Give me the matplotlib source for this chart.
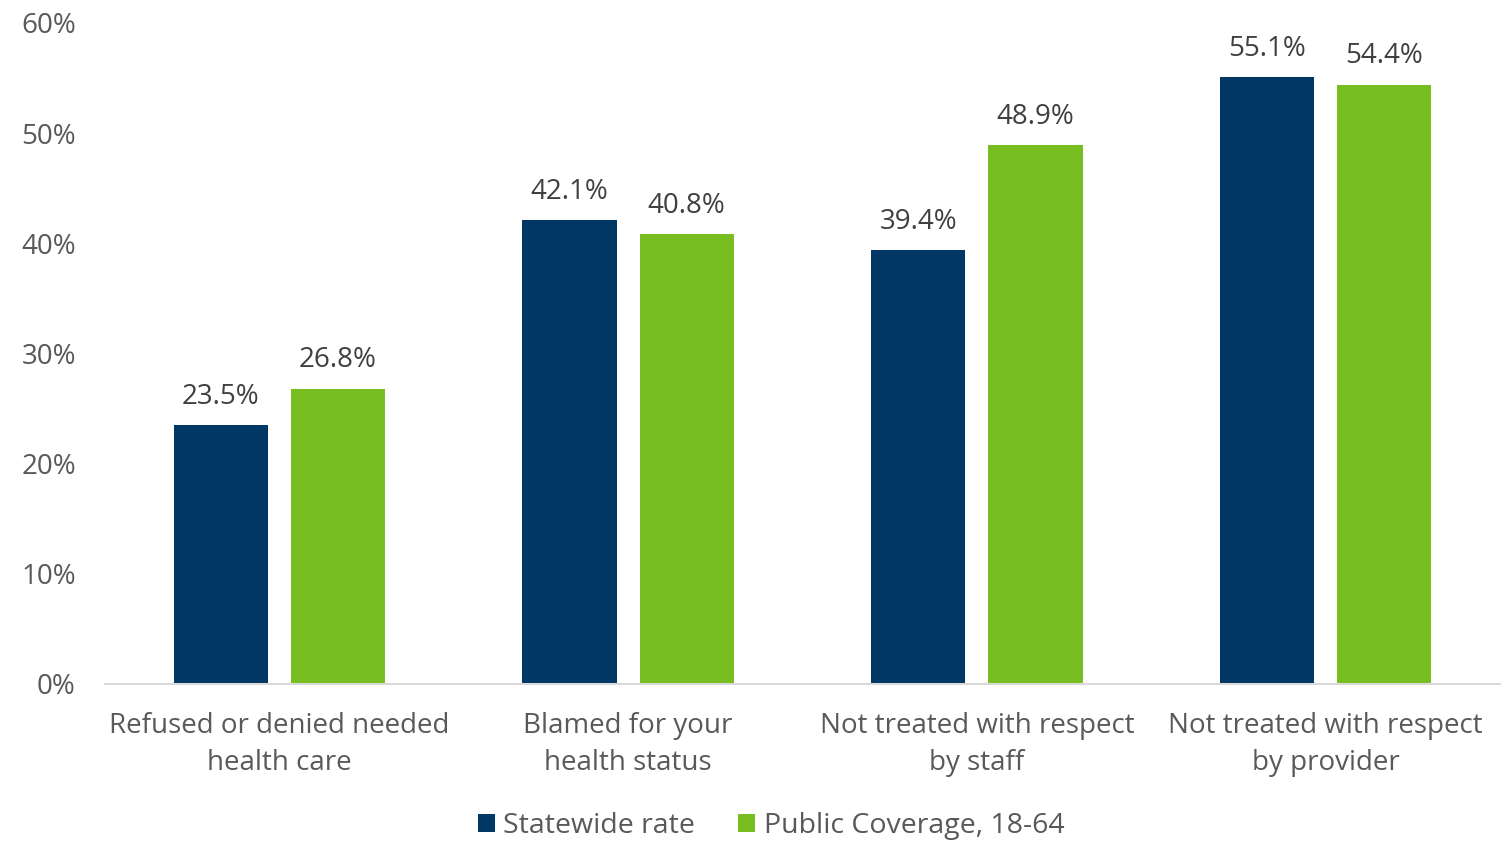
import matplotlib
matplotlib.use("Agg")
import matplotlib.pyplot as plt
import numpy as np
from matplotlib.ticker import FuncFormatter

categories = ["Refused or denied needed\nhealth care", "Blamed for your\nhealth status",
              "Not treated with respect\nby staff", "Not treated with respect\nby provider"]
statewide = [23.5, 42.1, 39.4, 55.1]
public = [26.8, 40.8, 48.9, 54.4]
series_names = ["Statewide rate", "Public Coverage, 18-64"]

plt.rcParams['font.family'] = ['Open Sans', 'DejaVu Sans']
gray = "#595959"
navy = "#003764"
green = "#78BE20"

fig = plt.figure(figsize=(15.09, 8.41), dpi=100)
ax = fig.add_axes([0.0696, 0.1867, 0.9244, 0.786])
x = np.arange(len(categories))
w = 0.27
off = 0.168
b1 = ax.bar(x - off, statewide, w, color=navy, label=series_names[0])
b2 = ax.bar(x + off, public, w, color=green, label=series_names[1])
for bars, vals in ((b1, statewide), (b2, public)):
    for r, v in zip(bars, vals):
        ax.text(r.get_x() + r.get_width() / 2, v + 1.3, f"{v:.1f}%", ha="center", va="bottom",
                fontsize=20, color="#404040")
ax.set_xlim(-0.5, 3.5)
ax.set_ylim(0, 60)
ax.set_yticks(range(0, 61, 10))
ax.yaxis.set_major_formatter(FuncFormatter(lambda v, p: f"{v:.0f}%"))
ax.set_xticks(x)
ax.set_xticklabels(categories, fontsize=20, color=gray, linespacing=1.45)
ax.tick_params(axis='y', labelsize=20, labelcolor=gray, length=0, pad=21)
ax.tick_params(axis='x', length=0, pad=20)
for s in ("top", "right", "left"):
    ax.spines[s].set_visible(False)
ax.spines["bottom"].set_color("#d9d9d9")
ax.spines["bottom"].set_linewidth(1.5)
leg = fig.legend(handles=[b1, b2], loc="center", bbox_to_anchor=(0.511, 0.018), ncol=2, frameon=False,
                 fontsize=20.5, handlelength=0.6, handleheight=0.6, handletextpad=0.3, columnspacing=1.5)
for t in leg.get_texts():
    t.set_color(gray)
fig.savefig("out.png", dpi=100)
